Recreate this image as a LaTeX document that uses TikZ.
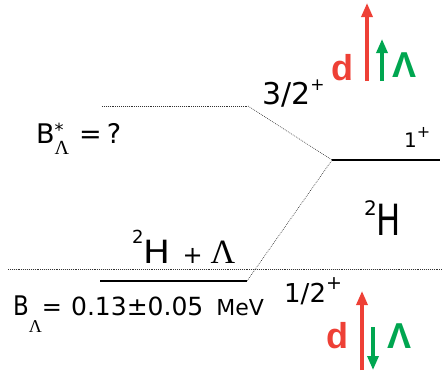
\documentclass[tikz,border=0pt]{standalone}
\usepackage{fontspec}
\setmainfont{DejaVu Sans}
\newfontfamily\lsans{Liberation Sans}
\newfontfamily\lserif{Liberation Serif}
\usetikzlibrary{arrows.meta}
\definecolor{myred}{HTML}{EE4036}
\definecolor{mygreen}{HTML}{00A650}
\tikzset{
  lbl/.style={inner sep=0pt, anchor=base west},
  dotline/.style={line width=0.6pt, dash pattern=on 0.8pt off 1.1pt, black!80},
  level/.style={line width=1.2pt, black},
  spin/.style={line width=3.2pt, -{Triangle[width=11pt,length=14pt]}},
}
\newcommand{\fs}[1]{\fontsize{#1}{#1}\selectfont}
\begin{document}
\begin{tikzpicture}[x=1pt,y={(0pt,-1pt)}]
\useasboundingbox (0,0) rectangle (443,372);
% level end points
\coordinate (ex0) at (102,106);
\coordinate (ex1) at (248,106);
\coordinate (gs0) at (332,160);
\coordinate (gs1) at (440,160);
\coordinate (th0) at (100,281);
\coordinate (th1) at (247,281);
\coordinate (bl0) at (8,269);
\coordinate (bl1) at (443,269);
% levels
\draw[dotline] (ex0) -- (ex1);
\draw[dotline] (ex1) -- (gs0);
\draw[dotline] (th1) -- (gs0);
\draw[level] (gs0) -- (gs1);
\draw[level] (th0) -- (th1);
\draw[dotline] (bl0) -- (bl1);
% labels
\node[lbl] (l32) at (262,104) {\fs{30}3/2\raisebox{14pt}{\fs{17}+}};
\node[lbl] (l1) at (404,147) {\fs{20}1\raisebox{10pt}{\fs{16}+}};
\node[lbl] (l12) at (284,302) {\fs{26}1/2\raisebox{13pt}{\fs{19}+}};
\node[lbl] (h2) at (364,235) {\raisebox{20pt}{\fs{20}2}\scalebox{0.75}[1]{\fs{43}H}};
\node[lbl] (bstar) at (36,143) {\fs{27}B\rlap{\raisebox{7pt}{\fs{18}*}}\raisebox{-11pt}{\lserif\fs{20}Λ}\hspace{10pt}=\hspace{5pt}?};
\node[lbl] (hl) at (132,263) {\raisebox{20pt}{\fs{18}2}\scalebox{1.12}[1]{\fs{32}H}\hspace{12pt}\fs{24}+\hspace{8pt}{\lserif\fs{34}Λ}};
\node[lbl] (bl) at (13,315) {\scalebox{0.85}[1]{\fs{27}B}\raisebox{-17pt}{\lserif\fs{18}Λ}\fs{24}=\hspace{9pt}\fs{25}0.13±0.05\hspace{13pt}\fs{22}MeV};
% top spins
\node[lbl, text=myred] (dtop) at (331,80) {\lsans\fs{36}\bfseries d};
\coordinate (rt0) at (367,81);
\coordinate (rt1) at (367,3);
\draw[spin, myred] (rt0) -- (rt1);
\coordinate (gt0) at (382,81);
\coordinate (gt1) at (382,39);
\draw[spin, mygreen] (gt0) -- (gt1);
\node[lbl, text=mygreen] (ltop) at (392,77) {\lsans\fs{36}\bfseries Λ};
% bottom spins
\node[lbl, text=myred] (dbot) at (326,348) {\lsans\fs{36}\bfseries d};
\coordinate (rb0) at (362,370);
\coordinate (rb1) at (362,291);
\draw[spin, myred] (rb0) -- (rb1);
\coordinate (gb0) at (373,327);
\coordinate (gb1) at (373,370);
\draw[spin, mygreen] (gb0) -- (gb1);
\node[lbl, text=mygreen] (lbot) at (387,348) {\lsans\fs{36}\bfseries Λ};
\end{tikzpicture}
\end{document}
